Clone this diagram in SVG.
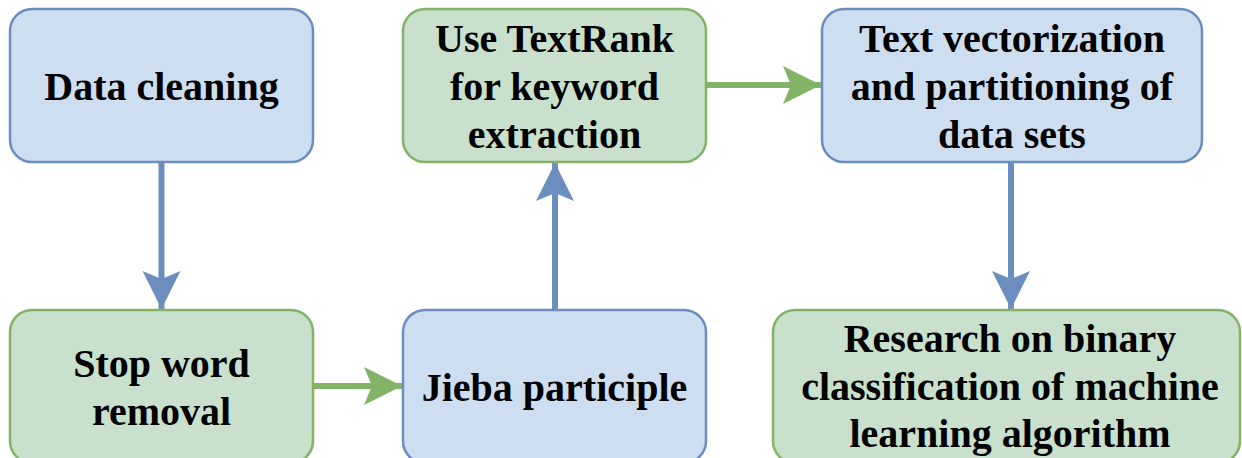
<svg xmlns="http://www.w3.org/2000/svg" width="1242" height="458" viewBox="0 0 1242 458">
<style>
.blue{fill:#cddef0;stroke:#6c8ebf;stroke-width:2.5}
.green{fill:#c8e0cc;stroke:#82b366;stroke-width:2.5}
.t{font-family:'Liberation Serif','Times New Roman','DejaVu Serif',serif;font-weight:700;font-size:40px;fill:#000;text-anchor:middle}
.cb{stroke:#6c8ebf;stroke-width:6;fill:none}
.cg{stroke:#82b366;stroke-width:6;fill:none}
</style>
<defs>
<marker id="ab" markerUnits="userSpaceOnUse" markerWidth="40" markerHeight="40" refX="38" refY="19" orient="auto">
<path d="M0,0 L38,19 L0,38 L8,19 Z" fill="#6c8ebf"/>
</marker>
<marker id="ag" markerUnits="userSpaceOnUse" markerWidth="40" markerHeight="40" refX="38" refY="19" orient="auto">
<path d="M0,0 L38,19 L0,38 L8,19 Z" fill="#82b366"/>
</marker>
</defs>
<g id="connectors">
<line class="cb" x1="161.5" y1="162" x2="161.5" y2="309" marker-end="url(#ab)"/>
<line class="cg" x1="313" y1="386" x2="402" y2="386" marker-end="url(#ag)"/>
<line class="cb" x1="555" y1="310" x2="555" y2="163" marker-end="url(#ab)"/>
<line class="cg" x1="706" y1="85" x2="821" y2="85" marker-end="url(#ag)"/>
<line class="cb" x1="1011" y1="162" x2="1011" y2="309" marker-end="url(#ab)"/>
</g>
<g id="n1">
<rect class="blue" x="10" y="9" width="303" height="153" rx="22"/>
<text class="t" font-family="Liberation Serif, serif" x="161.5" y="100">Data cleaning</text>
</g>
<g id="n2">
<rect class="green" x="10" y="310" width="303" height="153" rx="22"/>
<text class="t" x="161.5" y="377">Stop word</text>
<text class="t" x="161.5" y="425">removal</text>
</g>
<g id="n3">
<rect class="blue" x="403" y="310" width="303" height="153" rx="22"/>
<text class="t" x="554.5" y="401">Jieba participle</text>
</g>
<g id="n4">
<rect class="green" x="403" y="9" width="303" height="153" rx="22"/>
<text class="t" x="554.5" y="52">Use TextRank</text>
<text class="t" x="554.5" y="100">for keyword</text>
<text class="t" x="554.5" y="148">extraction</text>
</g>
<g id="n5">
<rect class="blue" x="822" y="9" width="380" height="153" rx="22"/>
<text class="t" x="1012" y="52">Text vectorization</text>
<text class="t" x="1012" y="100">and partitioning of</text>
<text class="t" x="1012" y="148">data sets</text>
</g>
<g id="n6">
<rect class="green" x="773" y="310" width="467" height="153" rx="22"/>
<text class="t" x="1010" y="352">Research on binary</text>
<text class="t" x="1010" y="400">classification of machine</text>
<text class="t" x="1010" y="447">learning algorithm</text>
</g>
</svg>
